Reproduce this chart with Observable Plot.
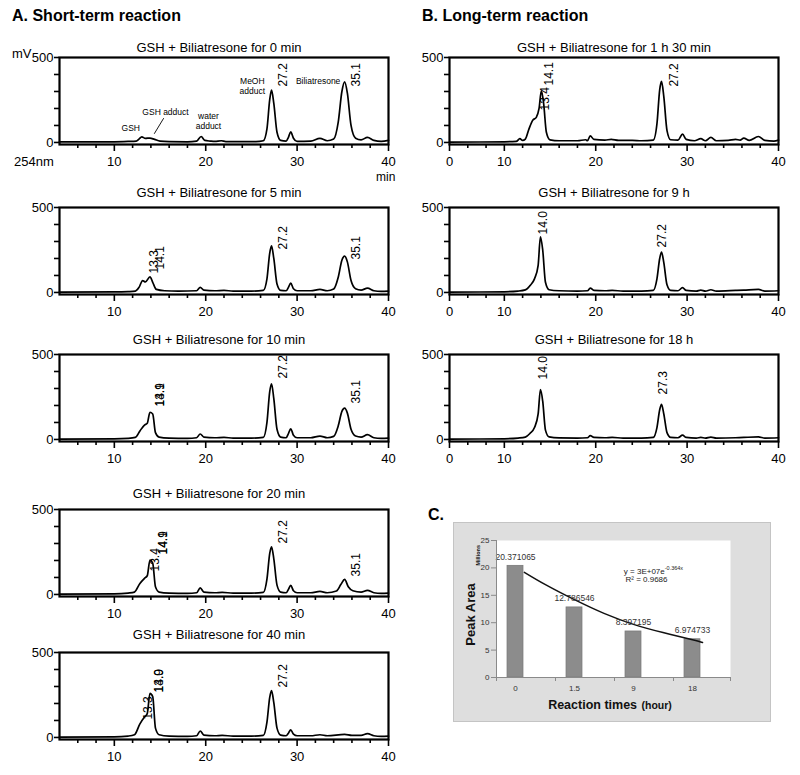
<!DOCTYPE html>
<html><head><meta charset="utf-8">
<script src="https://cdn.jsdelivr.net/npm/d3@7"></script>
<script src="https://cdn.jsdelivr.net/npm/@observablehq/plot@0.6"></script>
<style>
body{margin:0;background:#fff;font-family:"Liberation Sans",Arial,sans-serif;}
#root{position:relative;width:800px;height:775px;overflow:hidden;background:#fff;}
.abs{position:absolute;white-space:nowrap;color:#000;line-height:1;}
</style></head><body><div id="root"></div>
<script>
// ---------- chromatogram traces [time (min), signal (mV)] ----------
const traceA0 = [[4,3],[10,4],[11.5,6],[12.4,8],[12.7,20],[13.0,33],[13.4,24],[13.9,26],[14.4,18],[15,8],[16,5],[18,4],[19.0,8],[19.5,35],[19.9,12],[20.5,8],[21.0,6],[21.7,10],[22.2,5],[24,5],[25.5,5],[26.3,10],[26.7,80],[27.0,250],[27.2,308],[27.45,230],[27.8,60],[28.2,12],[28.8,8],[29.05,30],[29.3,63],[29.6,25],[30.0,6],[31.5,8],[32.5,24],[33.3,10],[34.0,20],[34.5,120],[34.9,300],[35.2,357],[35.5,290],[35.9,100],[36.4,25],[37.0,15],[37.7,30],[38.4,12],[39.2,6],[40,12]];
const traceA1 = [[4,2],[10,3],[11.5,5],[12.3,8],[12.7,30],[13.1,70],[13.4,62],[13.9,92],[14.2,60],[14.6,18],[15.5,10],[17,8],[19.0,10],[19.4,30],[19.8,14],[21,10],[22,12],[23,8],[25,8],[26.3,12],[26.7,80],[27.0,230],[27.2,274],[27.45,200],[27.8,50],[28.2,12],[28.8,10],[29.05,30],[29.3,55],[29.6,22],[30,10],[31.5,10],[32.5,18],[33.3,10],[34.0,20],[34.5,90],[34.9,190],[35.2,214],[35.5,180],[35.9,70],[36.4,22],[37,14],[37.7,25],[38.4,10],[39.2,6],[40,8]];
const traceA2 = [[4,2],[10,3],[11.5,6],[12.3,12],[12.8,50],[13.3,85],[13.6,95],[13.9,160],[14.2,150],[14.5,40],[14.9,14],[16,8],[18,6],[19.0,10],[19.4,32],[19.8,14],[21,10],[22,12],[23,8],[25,8],[26.3,12],[26.7,100],[27.0,280],[27.2,328],[27.45,240],[27.8,60],[28.2,14],[28.8,10],[29.05,35],[29.3,63],[29.6,25],[30,10],[31.5,10],[32.5,20],[33.3,10],[34.0,18],[34.5,80],[34.9,165],[35.2,184],[35.5,155],[35.9,60],[36.4,20],[37,14],[37.7,28],[38.4,10],[39.2,6],[40,8]];
const traceA3 = [[4,2],[10,3],[11.5,8],[12.2,14],[12.8,65],[13.3,95],[13.6,110],[13.9,202],[14.2,185],[14.5,45],[14.9,14],[16,8],[18,6],[19.0,10],[19.4,39],[19.8,14],[21,10],[21.8,12],[23,8],[25,8],[26.3,12],[26.7,90],[27.0,240],[27.2,280],[27.45,210],[27.8,55],[28.2,14],[28.8,10],[29.05,30],[29.3,54],[29.6,22],[30,10],[31.5,10],[32.5,18],[33.3,10],[34.3,20],[34.8,60],[35.2,89],[35.6,45],[36.1,22],[37,14],[37.7,24],[38.4,10],[39.2,6],[40,8]];
const traceA4 = [[4,2],[10,3],[11.5,8],[12.2,16],[12.8,80],[13.3,120],[13.6,140],[13.9,259],[14.2,240],[14.5,55],[14.9,16],[16,8],[18,6],[19.0,10],[19.4,38],[19.8,14],[21,10],[21.8,12],[23,8],[25,8],[26.3,12],[26.7,90],[27.0,235],[27.2,276],[27.45,205],[27.8,55],[28.2,14],[28.8,10],[29.05,25],[29.3,45],[29.6,20],[30,10],[31.5,10],[32.5,16],[33.3,10],[35.2,18],[36,12],[37,12],[37.7,22],[38.4,10],[39.2,6],[40,8]];
const traceB0 = [[4,2],[10,4],[11.3,6],[11.7,22],[12.0,12],[12.3,20],[12.7,80],[13.1,130],[13.5,148],[13.8,200],[14.05,304],[14.3,230],[14.6,60],[15.0,15],[16,10],[18,10],[18.9,16],[19.1,10],[19.4,39],[19.8,18],[21,14],[21.7,18],[22.5,12],[24,12],[25,10],[26.3,14],[26.7,110],[27.0,310],[27.2,359],[27.45,270],[27.8,70],[28.2,16],[29.0,14],[29.5,49],[29.9,18],[30.8,10],[31.5,22],[32.0,10],[32.6,30],[33.2,10],[34.5,12],[35.3,18],[35.8,14],[36.2,26],[36.8,12],[37.8,35],[38.5,12],[39.5,8],[40,14]];
const traceB1 = [[4,2],[10,4],[11.5,8],[12.3,15],[12.8,40],[13.3,80],[13.7,160],[13.95,327],[14.2,250],[14.5,60],[14.9,16],[16,10],[18,8],[19.1,10],[19.4,26],[19.8,12],[21,10],[21.8,12],[23,8],[25,8],[26.3,12],[26.7,80],[27.0,200],[27.2,238],[27.45,175],[27.8,45],[28.2,12],[29.0,10],[29.5,28],[29.9,12],[31,8],[31.5,14],[32,8],[32.6,16],[33.2,8],[35.3,12],[36.2,14],[37.8,18],[38.5,8],[40,10]];
const traceB2 = [[4,2],[10,4],[11.5,8],[12.3,14],[12.8,35],[13.3,70],[13.7,150],[13.95,293],[14.2,225],[14.5,55],[14.9,15],[16,9],[18,8],[19.1,10],[19.4,22],[19.8,12],[21,10],[21.8,12],[23,8],[25,8],[26.3,12],[26.7,70],[27.0,175],[27.2,207],[27.45,150],[27.8,40],[28.2,12],[29.0,10],[29.5,25],[29.9,12],[31,8],[31.5,12],[32,8],[32.6,14],[33.2,8],[35.3,10],[36.2,12],[37.8,15],[38.5,8],[40,10]];

// ---------- peak retention-time labels ----------
const labelsA0 = [{t:28.5,y:330,text:"27.2"},{t:36.5,y:330,text:"35.1"}];
const labelsA1 = [{t:14.4,y:112,text:"13.3"},{t:15.05,y:135,text:"14.1"},{t:28.5,y:253,text:"27.2"},{t:36.5,y:194,text:"35.1"}];
const labelsA2 = [{t:15.05,y:194,text:"13.9"},{t:15.05,y:194,text:"14.1"},{t:28.5,y:359,text:"27.2"},{t:36.5,y:212,text:"35.1"}];
const labelsA3 = [{t:14.5,y:135,text:"13.4"},{t:15.3,y:235,text:"14.9"},{t:15.3,y:235,text:"14.1"},{t:28.5,y:300,text:"27.2"},{t:36.5,y:106,text:"35.1"}];
const labelsA4 = [{t:13.7,y:105,text:"13.3"},{t:14.9,y:265,text:"14.0"},{t:14.9,y:265,text:"13.9"},{t:28.5,y:294,text:"27.2"}];
const labelsB0 = [{t:14.5,y:188,text:"13.4"},{t:14.9,y:335,text:"14.1"},{t:28.6,y:329,text:"27.2"}];
const labelsB1 = [{t:14.3,y:341,text:"14.0"},{t:27.3,y:265,text:"27.2"}];
const labelsB2 = [{t:14.3,y:353,text:"14.0"},{t:27.4,y:265,text:"27.3"}];

// compound annotations in the 0 min panel
const annotA0 = [
  {t:11.8,y:82,text:"GSH"},
  {t:15.6,y:176,text:"GSH adduct"},
  {t:20.3,y:153,text:"water"},{t:20.3,y:94,text:"adduct"},
  {t:25.1,y:359,text:"MeOH"},{t:25.1,y:300,text:"adduct"},
  {t:32.3,y:359,text:"Biliatresone"}
];
const leaderA0 = [{t:15.38,y:141},{t:14.39,y:53}];

const titles = ["GSH + Biliatresone for 0 min","GSH + Biliatresone for 5 min","GSH + Biliatresone for 10 min","GSH + Biliatresone for 20 min","GSH + Biliatresone for 40 min","GSH + Biliatresone for 1 h 30 min","GSH + Biliatresone for 9 h","GSH + Biliatresone for 18 h"];

// axis ticks
const majorTicksA = [10,20,30,40], majorLabelsA = ["10","20","30","40"];
const majorTicksB = [4,10,20,30,40], majorLabelsB = ["0","10","20","30","40"];
const minorTicksX = [6,8,12,14,16,18,22,24,26,28,32,34,36,38];
const yMinorTicks = [100,200,300,400];
const yMajorTicks = [0,500];

// ---------- panel C data ----------
const timeLabels = ["0","1.5","9","18"];
const peakArea = [20.371065, 12.786546, 8.397195, 6.974733];
const peakAreaText = ["20.371065","12.786546","8.397195","6.974733"];
const trendPts = [[0.15,19.2],[0.5,17.0],[1.0,14.2],[1.5,11.7],[2.0,9.7],[2.5,8.2],[3.0,6.9],[3.17,6.4]];
const cTicksY = [0,5,10,15,20,25];

// ---------- layout ----------
const root = document.getElementById("root");
const FONT = "Liberation Sans, Arial, sans-serif";
function place(el, left, top){ el.style.position="absolute"; el.style.left=left+"px"; el.style.top=top+"px"; root.appendChild(el); }
function html(text, left, top, css){ const d=document.createElement("div"); d.className="abs"; d.innerHTML=text; d.style.cssText += css||""; place(d,left,top); return d; }

const panels = [
  {trace:traceA0, labels:labelsA0, title:titles[0], col:"A", top:57,  tdy:-10, annot:true},
  {trace:traceA1, labels:labelsA1, title:titles[1], col:"A", top:207, tdy:-15},
  {trace:traceA2, labels:labelsA2, title:titles[2], col:"A", top:354, tdy:-15},
  {trace:traceA3, labels:labelsA3, title:titles[3], col:"A", top:509, tdy:-16},
  {trace:traceA4, labels:labelsA4, title:titles[4], col:"A", top:652, tdy:-18},
  {trace:traceB0, labels:labelsB0, title:titles[5], col:"B", top:57,  tdy:-10},
  {trace:traceB1, labels:labelsB1, title:titles[6], col:"B", top:207, tdy:-15},
  {trace:traceB2, labels:labelsB2, title:titles[7], col:"B", top:354, tdy:-15}
];

const ML = 40, MR = 12, MT = 26, FH = 87, MB = 30, FW = 329;
function chrom(p){
  const tv = p.col === "A" ? majorTicksA : majorTicksB;
  const tl = p.col === "A" ? majorLabelsA : majorLabelsB;
  const marks = [
    Plot.axisX({ticks:minorTicksX, tickSize:4, tickFormat:()=>"", strokeWidth:1.6, label:null}),
    Plot.axisX({ticks:tv, tickSize:7, tickPadding:5, tickFormat:d=>tl[tv.indexOf(d)], fontSize:13, strokeWidth:1.6, label:null}),
    Plot.axisY({ticks:yMinorTicks, tickSize:5, tickFormat:()=>"", strokeWidth:1.6, label:null}),
    Plot.axisY({ticks:yMajorTicks, tickSize:5, tickPadding:1, fontSize:13, strokeWidth:1.6, label:null}),
    Plot.line(p.trace, {x:d=>d[0], y:d=>d[1], curve:"monotone-x", stroke:"#000", strokeWidth:1.7}),
    Plot.frame({stroke:"#000", strokeWidth:2.2}),
    Plot.text(p.labels, {x:"t", y:"y", text:"text", rotate:-90, textAnchor:"start", fontSize:12, fill:"#000"}),
    Plot.text([p.title], {frameAnchor:"top", lineAnchor:"middle", dy:p.tdy, dx:p.col==="A"?-5:0, fontSize:13, fill:"#000"})
  ];
  if (p.annot){
    marks.push(Plot.text(annotA0, {x:"t", y:"y", text:"text", fontSize:8.5, fill:"#000"}));
    marks.push(Plot.line(leaderA0, {x:"t", y:"y", stroke:"#000", strokeWidth:0.9}));
  }
  return Plot.plot({
    width: ML+FW+MR, height: MT+FH+MB,
    marginLeft:ML, marginRight:MR, marginTop:MT, marginBottom:MB,
    x:{domain:[4,40], label:null},
    y:{domain:[-12,500], label:null},
    style:{fontFamily:FONT, fontSize:"13px", background:"transparent", overflow:"visible", color:"#000"},
    marks
  });
}
for (const p of panels){
  const svg = chrom(p);
  const frameLeft = p.col === "A" ? 59 : 449;
  place(svg, frameLeft-ML, p.top-MT);
}

// headings and extra labels
html("A. Short-term reaction", 12, 8, "font-size:16px;font-weight:bold;");
html("B. Long-term reaction", 422, 8, "font-size:16px;font-weight:bold;");
html("C.", 428, 507, "font-size:16px;font-weight:bold;");
html("mV", 12, 47, "font-size:13px;");
html("254nm", 14, 155, "font-size:13px;");
html("min", 376, 171, "font-size:12px;");

// ---------- panel C ----------
const cIdx = [0,1,2,3];
const cPlot = Plot.plot({
  width:316, height:198, marginLeft:42, marginRight:40, marginTop:17, marginBottom:44,
  x:{domain:[-0.322,3.644], label:null},
  y:{domain:[0,25], label:null},
  style:{fontFamily:FONT, background:"#dedede", overflow:"visible"},
  marks:[
    Plot.frame({fill:"#fff", stroke:null}),
    Plot.rectY(cIdx, {x1:i=>i-0.135, x2:i=>i+0.135, y:i=>peakArea[i], fill:"#8c8c8c", stroke:"#7a7a7a", strokeWidth:0.8}),
    Plot.line(trendPts, {x:d=>d[0], y:d=>d[1], curve:"natural", stroke:"#111", strokeWidth:1.5}),
    Plot.text(cIdx, {x:i=>i, y:i=>peakArea[i], text:i=>peakAreaText[i], dy:-9, fontSize:8.5, fill:"#333"}),
    Plot.ruleX([-0.322], {stroke:"#8a8a8a"}),
    Plot.ruleY([0], {stroke:"#8a8a8a"}),
    Plot.axisY({ticks:cTicksY, tickSize:5, tickPadding:2, fontSize:8, stroke:"#8a8a8a", fill:"#333", label:null}),
    Plot.axisX({ticks:cIdx, tickSize:0, tickPadding:8, tickFormat:i=>timeLabels[i], fontSize:8, fill:"#333", label:null}),
    Plot.axisX({ticks:[-0.322,0.678,1.678,2.678,3.644], tickSize:4, tickFormat:()=>"", stroke:"#8a8a8a", label:null}),
    Plot.text(["y = 3E+07e"], {x:2.53, y:19.4, textAnchor:"end", fontSize:8, fill:"#222"}),
    Plot.text(["-0.364x"], {x:2.53, y:19.4, dy:-3, textAnchor:"start", fontSize:5.5, fill:"#222"}),
    Plot.text(["R² = 0.9686"], {x:2.22, y:17.9, fontSize:8, fill:"#222"}),
    Plot.text(["Peak Area"], {x:-0.76, y:11.5, rotate:-90, fontSize:13, fontWeight:"bold", fill:"#111"}),
    Plot.text(["Millions"], {x:-0.64, y:22.3, rotate:-90, fontSize:5.5, fontWeight:"bold", fill:"#111"})
  ]
});
cPlot.style.outline = "1px solid #c4c4c4";
place(cPlot, 454, 523);
html('<b style="font-size:12.5px">Reaction times</b> <b style="font-size:10.5px">(hour)</b>', 510, 696, "width:200px;text-align:center;color:#111;");
</script></body></html>
